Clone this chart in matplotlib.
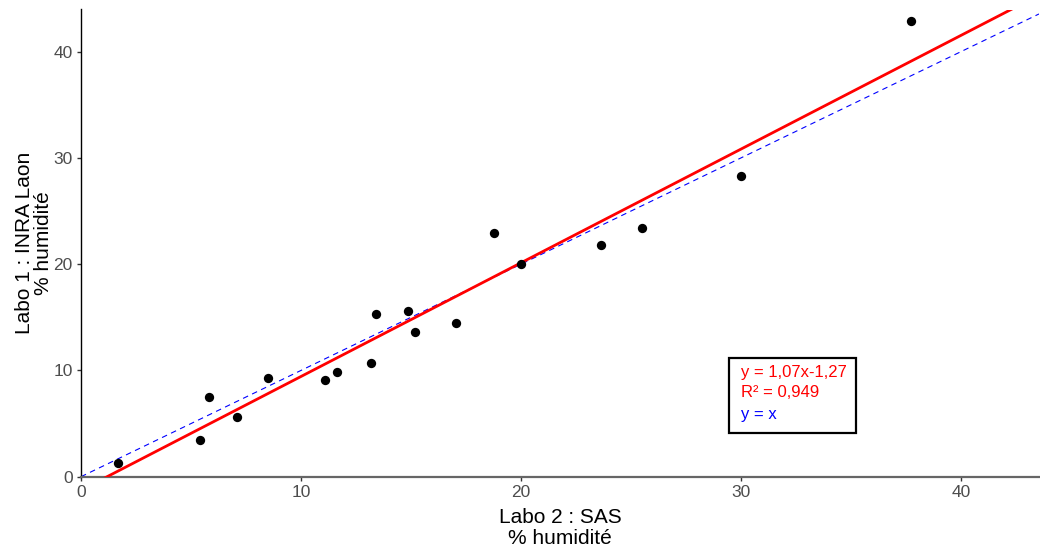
import numpy as np
import matplotlib
matplotlib.use("Agg")
import matplotlib.pyplot as plt
from matplotlib.patches import Rectangle

plt.rcParams['font.family'] = ['Liberation Sans', 'DejaVu Sans']

# Humidity measured by the two labs
sas = [1.68, 5.41, 5.82, 7.09, 8.50, 11.09, 11.64, 13.18, 13.41, 14.86,
       15.18, 17.05, 18.77, 20.00, 23.64, 25.50, 30.00, 37.73]
inra = [1.32, 3.48, 7.53, 5.64, 9.31, 9.12, 9.88, 10.72, 15.33, 15.62,
        13.64, 14.49, 22.95, 20.04, 21.83, 23.42, 28.32, 42.90]

# regression shown in the box
slope = 1.07
intercept = -1.27
eq_labels = ["y = 1,07x-1,27", "R\u00b2 = 0,949", "y = x"]
eq_colors = ["#FF0000", "#FF0000", "#0000FF"]

xmax, ymax = 43.55, 43.97

fig = plt.figure(figsize=(10.4, 5.54), dpi=100)
ax = fig.add_axes([81/1040, 1 - 476.7/554, (1039 - 81)/1040, (476.7 - 9.5)/554])

xs = np.array([0, xmax])
ax.plot(xs, xs, color="#0000FF", lw=0.8, ls=(0, (5, 4)), zorder=2)
ax.plot(xs, slope*xs + intercept, color="#FF0000", lw=2.0, zorder=3)
ax.scatter(sas, inra, s=45, color="black", zorder=4, linewidths=0)

ax.set_xlim(0, xmax)
ax.set_ylim(0, ymax)
ax.set_xticks([0, 10, 20, 30, 40])
ax.set_yticks([0, 10, 20, 30, 40])

for s in ["top", "right"]:
    ax.spines[s].set_visible(False)
ax.spines["left"].set_color("black")
ax.spines["left"].set_linewidth(1.0)
ax.spines["bottom"].set_color("#666666")
ax.spines["bottom"].set_linewidth(1.6)
ax.tick_params(length=3, width=1, color="#333333", labelcolor="#4D4D4D",
               labelsize=12.5, pad=3)

ax.set_xlabel("Labo 2 : SAS\n% humidit\u00e9", fontsize=15, linespacing=1.12, labelpad=6)
ax.set_ylabel("Labo 1 : INRA Laon\n% humidit\u00e9", fontsize=15, linespacing=1.0, labelpad=0)

# legend box
ax.add_patch(Rectangle((29.47, 4.11), 35.23 - 29.47, 11.17 - 4.11, fill=False,
                       edgecolor="black", lw=1.6, zorder=5))
for lab, col, yy in zip(eq_labels, eq_colors, [9.85, 7.97, 5.9]):
    ax.text(30.0, yy, lab, color=col, fontsize=12, va="center", ha="left", zorder=6)

fig.savefig("out.png", dpi=100)
